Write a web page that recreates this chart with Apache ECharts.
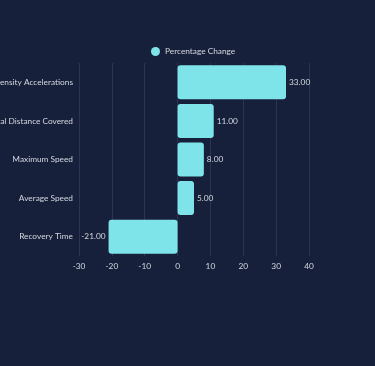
<!DOCTYPE html>
<html><head><meta charset="utf-8">
<style>html,body{margin:0;padding:0;background:#17203b;}#c{width:375px;height:366px;}</style>
<script src="https://cdn.jsdelivr.net/npm/echarts@6/dist/echarts.min.js"></script>
</head><body><div id="c"></div>
<script>
const categories = ["Recovery Time", "Average Speed", "Maximum Speed", "Total Distance Covered", "High Intensity Accelerations"];
const values = [-21, 5, 8, 11, 33];
const seriesName = "Percentage Change";
const xTicks = {min: -30, max: 40, interval: 10};

const chart = echarts.init(document.getElementById('c'));
const font = 'Lato, "Noto Sans", sans-serif';
const txt = '#d3d7df';
chart.setOption({
  backgroundColor: '#17203b',
  animation: false,
  legend: {
    top: 42, left: 146,
    icon: 'circle', itemWidth: 9, itemHeight: 9, itemGap: 5,
    textStyle: {color: txt, fontSize: 8.3, fontFamily: font}
  },
  grid: {left: 79, right: 66, top: 63, bottom: 110, containLabel: false, outerBoundsMode: 'none'},
  xAxis: {
    type: 'value', min: xTicks.min, max: xTicks.max, interval: xTicks.interval,
    axisLine: {show: false}, axisTick: {show: false},
    axisLabel: {color: txt, fontSize: 8.3, fontFamily: font, margin: 6},
    splitLine: {lineStyle: {color: '#2a3552', width: 1}}
  },
  yAxis: {
    type: 'category', data: categories,
    axisLine: {show: false}, axisTick: {show: false},
    axisLabel: {color: txt, fontSize: 8.3, fontFamily: font, margin: 6}
  },
  series: [{
    name: seriesName, type: 'bar', barCategoryGap: '12%',
    itemStyle: {color: '#7fe4ea', borderRadius: 3},
    label: {show: true, color: txt, fontSize: 8.3, fontFamily: font, distance: 3,
      formatter: p => p.value.toFixed(2)},
    data: values.map(v => ({value: v, label: {position: v < 0 ? 'left' : 'right'}}))
  }]
});
</script></body></html>
